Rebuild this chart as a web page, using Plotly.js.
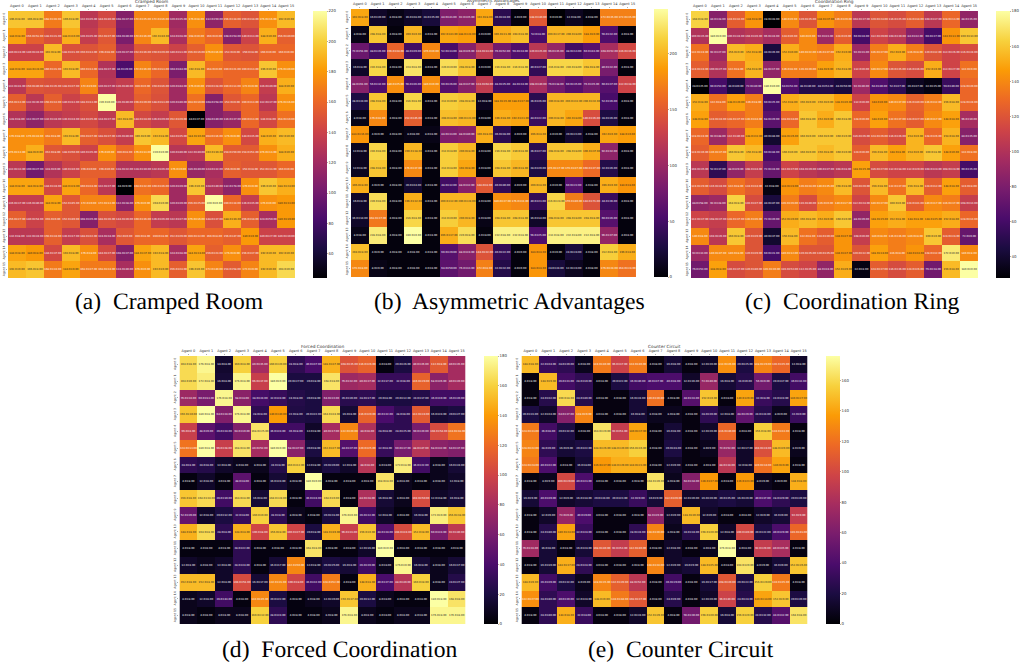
<!DOCTYPE html>
<html><head><meta charset="utf-8">
<script src="https://cdn.plot.ly/plotly-3.0.1.min.js"></script>
<style>html,body{margin:0;padding:0;background:#fff}#c{width:1020px;height:667px}svg text{text-rendering:geometricPrecision}</style>
</head><body><div id="c"></div>
<script>
const agents=["Agent 0","Agent 1","Agent 2","Agent 3","Agent 4","Agent 5","Agent 6","Agent 7","Agent 8","Agent 9","Agent 10","Agent 11","Agent 12","Agent 13","Agent 14","Agent 15"];
const crampedMean=[
[196,196,168,196,132,144,108,172,172,120,176,112,156,150,176,192],
[184,156,148,188,136,152,104,172,192,124,168,160,108,140,188,156],
[140,140,192,148,150,156,120,152,150,140,156,176,152,150,160,160],
[184,184,160,192,160,128,84,172,160,104,192,164,160,160,196,176],
[132,150,148,148,172,130,136,160,150,120,176,150,160,172,136,188],
[156,132,156,140,148,220,136,156,148,120,164,108,152,160,132,176],
[128,112,132,136,144,134,192,144,136,152,44,108,116,160,144,164],
[176,176,168,192,156,148,136,196,192,144,184,164,176,144,188,192],
[176,188,152,148,140,176,160,176,220,130,132,192,154,154,176,188],
[132,100,128,140,156,156,128,128,132,176,116,124,156,152,152,160],
[184,184,144,184,160,132,44,164,160,120,196,128,112,176,196,188],
[136,136,184,152,172,172,112,176,204,120,156,220,160,136,176,180],
[156,140,156,152,108,148,144,160,136,132,176,148,188,156,124,180],
[132,132,156,136,148,124,152,160,160,152,160,160,156,180,140,140],
[184,180,144,192,176,144,108,184,192,124,184,156,176,156,192,192],
[192,196,168,184,168,168,124,176,192,156,196,172,154,172,192,204]];
const crampedStd=[
[8,8,16,8,35,40,37,25,16,35,8,50,34,34,16,0],
[8,51,21,10,35,37,40,16,10,28,0,0,54,13,0,40],
[24,24,8,21,13,8,37,16,29,13,16,16,0,8,0,0],
[8,24,21,8,13,37,29,16,13,44,8,0,21,13,0,49],
[41,40,35,37,9,37,40,0,16,44,0,28,13,0,49,0],
[13,36,13,13,13,0,40,29,13,40,10,58,0,13,37,16],
[8,27,24,24,35,37,8,24,29,29,37,40,37,13,8,10],
[8,24,8,8,37,37,40,0,8,35,16,16,0,35,0,0],
[13,0,8,50,35,0,8,13,0,40,40,16,50,51,13,0],
[33,27,0,10,0,0,32,10,26,0,40,32,0,8,33,0],
[8,8,24,24,24,37,9,32,36,39,0,49,78,0,0,24],
[37,40,8,45,0,13,38,0,0,39,25,0,34,35,0,33],
[27,54,0,49,35,36,20,16,26,37,16,37,16,34,59,19],
[8,24,24,17,32,34,0,8,8,29,32,8,47,0,27,30],
[8,8,37,8,8,37,37,37,8,38,24,23,0,37,0,0],
[0,8,24,0,37,24,40,0,0,24,0,40,58,0,0,0]];
const asymMean=[
[192,16,8,16,24,84,92,192,36,4,148,0,12,4,172,172],
[8,208,4,200,4,192,188,4,196,204,52,200,200,188,56,4],
[72,48,156,48,176,52,88,124,76,56,120,96,48,60,108,136],
[16,216,4,224,4,220,208,4,216,216,40,216,216,208,80,4],
[88,56,180,56,180,60,88,124,48,48,108,76,60,76,60,132],
[28,208,4,216,4,212,208,12,188,188,36,200,200,200,52,4],
[8,176,4,152,4,204,200,4,196,192,44,200,192,140,28,4],
[184,4,4,8,8,84,88,196,36,4,196,4,20,4,192,188],
[12,216,4,200,4,212,200,4,216,210,36,208,208,196,92,4],
[12,208,4,176,4,212,192,4,208,200,28,176,176,160,32,4],
[196,4,4,20,4,48,88,148,40,4,200,4,60,4,196,184],
[16,220,4,196,4,200,200,4,180,176,40,216,170,144,44,4],
[16,168,4,216,4,212,200,8,208,208,16,208,208,208,60,4],
[8,228,4,240,4,196,220,4,232,232,56,232,232,232,96,4],
[204,4,4,4,4,60,88,144,40,4,184,4,24,4,212,196],
[176,8,4,4,4,64,76,172,32,4,184,24,12,4,176,164]];
const asymStd=[
[8,20,8,28,25,41,35,8,24,0,40,0,8,8,35,35],
[8,8,8,0,8,43,24,0,21,8,8,37,8,0,32,8],
[51,26,38,29,0,33,26,13,52,24,25,35,13,43,52,36],
[8,8,8,8,8,0,8,0,8,8,27,8,8,8,32,8],
[61,32,25,36,0,26,37,64,25,24,40,38,35,35,37,38],
[24,8,8,8,8,0,8,8,35,37,26,8,32,32,26,8],
[8,8,8,45,8,8,23,8,8,23,22,8,8,26,26,8],
[16,0,8,8,8,33,40,8,28,0,8,0,23,8,0,0],
[8,8,8,38,8,8,8,8,8,8,27,8,8,37,32,8],
[8,8,8,37,8,8,8,8,8,8,29,37,37,37,26,8],
[8,0,8,24,8,32,32,8,40,0,8,0,22,8,0,8],
[8,8,8,32,8,32,24,8,37,31,23,24,40,71,36,8],
[14,37,8,8,8,0,8,8,8,8,14,8,8,8,26,8],
[8,8,8,0,8,37,8,8,8,8,25,8,8,8,37,8],
[8,0,8,8,8,29,24,32,22,0,8,0,24,8,8,8],
[8,0,8,8,8,59,33,8,32,0,8,24,24,8,24,24]];
const ringMean=[
[164,84,124,144,28,140,120,144,136,104,120,116,124,104,128,88],
[100,180,100,104,96,124,140,92,124,60,112,104,84,60,144,160],
[132,92,156,152,44,152,140,136,152,92,136,152,136,120,112,116],
[124,100,132,154,88,136,136,148,154,112,140,120,116,152,112,132],
[28,60,44,72,180,64,48,48,44,92,64,52,36,32,56,128],
[152,132,148,136,60,152,156,156,148,112,144,140,126,136,156,128],
[148,124,128,136,68,128,160,152,160,128,148,132,124,140,148,96],
[128,92,112,148,40,148,160,160,160,116,124,116,154,128,154,84],
[124,136,160,156,60,160,160,156,160,124,156,148,154,160,148,132],
[104,52,88,108,72,112,104,100,104,148,116,112,112,104,108,60],
[124,116,132,124,32,144,136,140,156,120,156,132,156,124,148,124],
[88,92,164,116,44,136,116,136,140,112,140,160,124,140,136,108],
[112,108,128,136,72,152,156,152,160,88,148,152,148,148,152,128],
[140,104,160,120,40,156,132,124,144,108,140,136,140,160,124,72],
[92,140,140,120,60,140,120,120,144,120,148,136,144,128,172,140],
[76,148,116,120,136,116,112,88,152,32,124,116,124,76,156,180]];
const ringStd=[
[8,28,33,8,28,9,35,37,29,37,24,25,34,37,13,35],
[35,0,24,26,24,0,0,23,0,24,29,39,32,37,13,13],
[24,27,0,8,26,0,22,37,0,23,37,0,8,32,26,24],
[24,27,8,8,17,8,39,9,8,0,17,35,36,0,27,0],
[25,53,49,40,0,53,40,53,50,40,40,27,37,35,49,20],
[8,8,20,8,25,8,0,0,26,0,0,37,40,32,8,24],
[8,24,37,24,29,24,8,0,8,0,0,37,27,17,8,19],
[24,48,40,32,44,26,0,0,0,26,26,26,0,26,8,25],
[36,37,8,8,44,0,0,8,0,0,8,8,0,8,0,8],
[35,37,29,24,24,37,29,27,8,25,27,18,29,24,24,35],
[29,24,8,24,8,24,24,35,8,20,8,37,8,12,8,8],
[58,28,8,37,47,26,40,0,17,24,37,0,41,17,37,13],
[37,37,37,26,20,20,8,0,0,29,25,8,8,25,8,13],
[8,26,8,29,37,8,8,20,27,0,8,36,8,0,24,0],
[33,47,8,29,21,12,35,35,37,32,24,8,24,32,0,8],
[53,8,37,40,30,52,35,24,29,8,37,36,26,38,8,0]];
const forcedMean=[
[164,176,14,160,80,160,28,40,148,108,116,4,20,80,112,80],
[164,172,16,176,96,180,20,20,168,76,80,32,32,116,68,80],
[76,60,176,68,38,32,24,20,64,26,28,20,20,24,36,36],
[156,180,64,176,28,140,22,20,164,16,116,40,28,112,16,20],
[96,48,36,64,168,36,36,12,80,132,84,28,28,60,104,124],
[124,180,96,168,80,180,68,20,152,44,120,32,60,88,68,64],
[28,24,12,8,8,24,160,12,20,12,88,8,172,36,8,16],
[4,12,4,48,4,16,8,180,4,4,4,168,8,4,8,12],
[156,164,36,164,16,164,4,36,164,4,84,16,8,104,12,16],
[52,12,20,32,160,28,8,4,20,176,36,12,4,16,172,156],
[148,164,28,148,100,156,100,20,148,96,156,44,104,152,60,92],
[4,4,4,28,4,4,4,168,4,4,12,180,4,4,4,4],
[12,8,12,28,4,16,132,12,20,16,36,8,176,16,8,16],
[152,152,12,104,16,132,100,36,128,4,148,40,88,160,8,24],
[8,12,36,4,132,20,4,8,12,156,20,8,4,4,180,168],
[8,4,8,8,160,28,4,4,8,176,8,4,8,8,176,176]];
const forcedStd=[
[8,8,8,8,35,20,8,37,37,35,26,8,26,26,8,35],
[0,8,8,8,37,0,27,8,8,32,37,17,8,29,26,20],
[24,13,8,8,24,24,8,8,22,20,17,8,12,17,19,20],
[30,8,24,8,8,40,8,22,24,8,20,22,8,24,24,27],
[8,9,24,19,25,24,8,8,17,20,8,8,25,20,54,38],
[13,8,28,8,52,0,47,8,27,37,25,8,37,47,32,37],
[8,8,8,8,8,8,12,8,20,8,8,8,8,22,8,24],
[8,8,8,8,8,24,8,0,8,8,8,8,8,8,8,8],
[8,24,19,8,8,24,8,24,0,8,28,8,8,50,18,8],
[29,8,12,8,0,8,8,8,31,0,32,8,8,8,0,38],
[8,8,8,8,8,8,27,8,19,23,0,24,24,8,24,40],
[8,8,8,22,8,8,8,8,8,8,16,0,8,8,8,8],
[8,8,8,24,8,17,50,8,25,8,20,8,0,8,8,17],
[8,8,8,51,17,21,8,32,52,8,8,27,49,8,8,27],
[8,8,43,8,45,22,8,8,20,37,12,8,8,8,8,8],
[8,8,8,8,32,24,8,8,8,8,8,8,8,8,8,8]];
const circuitMean=[
[148,32,28,8,124,96,124,4,16,4,12,132,20,128,116,12],
[4,148,36,28,4,20,36,40,40,12,72,16,24,56,20,36],
[4,24,160,24,4,4,16,120,4,44,152,4,140,32,24,140],
[20,12,64,128,4,4,16,8,8,4,28,12,48,24,8,32],
[124,36,20,4,164,92,140,4,16,4,12,116,4,156,124,4],
[128,28,16,20,148,148,156,4,20,4,8,72,12,104,148,8],
[124,40,4,16,136,144,144,4,12,4,4,88,12,120,140,4],
[4,8,100,40,4,4,4,164,8,64,136,4,136,8,4,144],
[16,40,12,16,20,20,32,16,112,12,16,20,16,40,28,20],
[4,12,72,40,4,4,4,68,12,148,12,4,4,12,16,92],
[4,24,140,32,4,4,28,128,8,24,156,12,100,20,40,116],
[76,16,4,16,108,92,112,4,12,4,8,176,8,92,80,4],
[4,16,144,28,4,4,4,128,12,16,148,4,164,8,16,152],
[148,36,20,8,128,112,88,4,36,4,16,108,20,156,124,4],
[132,28,40,12,148,124,108,4,24,4,12,96,24,140,152,20],
[4,28,144,32,4,4,12,152,4,56,156,16,156,24,44,164]];
const circuitStd=[
[8,24,29,8,40,37,40,8,8,8,20,26,25,29,35,8],
[8,9,23,19,8,22,40,37,8,16,40,8,9,0,37,33],
[8,32,8,40,8,8,24,20,8,33,0,8,29,8,24,27],
[23,24,37,9,8,8,8,8,8,8,20,8,29,24,9,0],
[33,8,32,8,20,51,37,8,8,8,20,40,8,8,33,8],
[22,9,9,22,26,20,16,8,41,8,9,52,17,24,20,9],
[24,22,8,8,37,29,23,8,9,8,8,34,8,34,9,8],
[8,9,29,23,8,8,8,20,8,34,37,8,23,9,9,8],
[9,29,9,34,24,23,9,9,29,20,20,25,20,37,29,20],
[8,9,9,9,8,8,8,29,9,20,9,8,8,9,9,9],
[8,40,24,24,8,8,24,20,8,24,20,8,49,22,29,41],
[33,8,8,24,40,53,40,8,8,8,8,8,8,29,35,8],
[8,19,37,24,8,8,8,24,9,9,25,8,20,9,9,26],
[9,29,32,9,35,29,52,8,29,8,17,20,22,20,35,8],
[27,40,20,24,9,44,37,8,9,8,20,40,24,34,9,20],
[8,40,8,8,8,8,24,29,8,30,20,8,20,32,32,8]];

const stops=["#000004","#1b0c41","#4a0c6b","#781c6d","#a52c60","#cf4446","#ed6925","#fb9b06","#f7d13d","#fcffa4"];
const inferno=stops.map((c,i)=>[i/9,c]);
const rgb=h=>[1,3,5].map(k=>parseInt(h.substr(k,2),16)/255);
function textColor(v,lo,hi){
  const t=Math.min(1,Math.max(0,(v-lo)/(hi-lo)))*9,a=Math.min(8,Math.floor(t)),f=t-a;
  const c0=rgb(stops[a]),c1=rgb(stops[a+1]);
  const lin=c0.map((x,k)=>{const u=x+(c1[k]-x)*f;return u<=0.03928?u/12.92:Math.pow((u+0.055)/1.055,2.4);});
  return (0.2126*lin[0]+0.7152*lin[1]+0.0722*lin[2])>0.408?"#262626":"#ffffff";
}
const W=1020,H=667;
const panels=[
 {name:"Cramped Room",cap:"(a)  Cramped Room",m:crampedMean,s:crampedStd,x0:8,x1:296,y0:11,y1:278,cb:314,zmin:44,zmax:220,dt:20,t0:60,cx:169,cy:302,ty:2},
 {name:"Asymmetric Advantages",cap:"(b)  Asymmetric Advantages",m:asymMean,s:asymStd,x0:352,x1:638,y0:9,y1:277,cb:656,zmin:0,zmax:240,dt:50,t0:0,cx:511.5,cy:302,ty:1},
 {name:"Coordination Ring",cap:"(c)  Coordination Ring",m:ringMean,s:ringStd,x0:693,x1:981,y0:11,y1:278,cb:999,zmin:28,zmax:180,dt:20,t0:40,cx:854.5,cy:302,ty:2},
 {name:"Forced Coordination",cap:"(d)  Forced Coordination",m:forcedMean,s:forcedStd,x0:180,x1:467,y0:356,y1:624,cb:485,zmin:0,zmax:180,dt:20,t0:0,cx:340.5,cy:650,ty:347},
 {name:"Counter Circuit",cap:"(e)  Counter Circuit",m:circuitMean,s:circuitStd,x0:523,x1:810,y0:356,y1:624,cb:828,zmin:0,zmax:176,dt:20,t0:0,cx:683.5,cy:650,ty:347}
];
const idx=agents.map((_,k)=>k);
const traces=[],annotations=[];
const layout={width:W,height:H,margin:{l:0,r:0,t:0,b:0},paper_bgcolor:"#fff",plot_bgcolor:"#fff",showlegend:false,annotations};
panels.forEach((p,i)=>{
  const n=i===0?"":String(i+1);
  const common={tickmode:"array",tickvals:idx,ticktext:agents,ticks:"outside",ticklen:1.2,tickwidth:0.4,tickcolor:"#333",showgrid:false,zeroline:false,showline:false,automargin:false,fixedrange:true};
  layout["xaxis"+n]=Object.assign({},common,{domain:[p.x0/W,p.x1/W],range:[-0.5,15.5],side:"top",tickangle:0,anchor:"y"+n,tickfont:{family:"DejaVu Sans",size:3.5,color:"#333"}});
  layout["yaxis"+n]=Object.assign({},common,{domain:[1-p.y1/H,1-p.y0/H],range:[15.5,-0.5],tickangle:-90,anchor:"x"+n,tickfont:{family:"DejaVu Sans",size:3.1,color:"#333"}});
  traces.push({type:"heatmap",xaxis:"x"+n,yaxis:"y"+n,x:idx,y:idx,z:p.m,
    colorscale:inferno,zmin:p.zmin,zmax:p.zmax,hoverinfo:"skip",
    colorbar:{x:p.cb/W,xanchor:"left",xref:"paper",y:1-(p.y0+p.y1)/2/H,yanchor:"middle",yref:"paper",len:(p.y1-p.y0)/H,lenmode:"fraction",thickness:14,thicknessmode:"pixels",xpad:0,ypad:0,outlinewidth:0,tick0:p.t0,dtick:p.dt,ticks:"outside",ticklen:1.2,tickwidth:0.4,tickcolor:"#333",tickfont:{family:"DejaVu Sans",size:3.9,color:"#333"}}});
  const tx=[],ty=[],tt=[],tc=[];
  p.m.forEach((r,a)=>r.forEach((v,b)=>{tx.push(b);ty.push(a);tt.push(v.toFixed(1)+"±"+p.s[a][b].toFixed(2));tc.push(textColor(v,p.zmin,p.zmax));}));
  traces.push({type:"scatter",mode:"text",xaxis:"x"+n,yaxis:"y"+n,x:tx,y:ty,text:tt,textposition:"middle center",textfont:{family:"DejaVu Sans",size:2.6,color:tc},hoverinfo:"skip"});
  annotations.push({xref:"paper",yref:"paper",x:(p.x0+p.x1)/2/W,y:1-p.ty/H,text:p.name,showarrow:false,xanchor:"center",yanchor:"middle",font:{family:"DejaVu Sans",size:4.3,color:"#333"}});
  annotations.push({xref:"paper",yref:"paper",x:p.cx/W,y:1-p.cy/H,text:p.cap,showarrow:false,xanchor:"center",yanchor:"middle",font:{family:"Liberation Serif",size:23.6,color:"#000"}});
});
Plotly.newPlot("c",traces,layout,{displayModeBar:false,staticPlot:true});
</script></body></html>
